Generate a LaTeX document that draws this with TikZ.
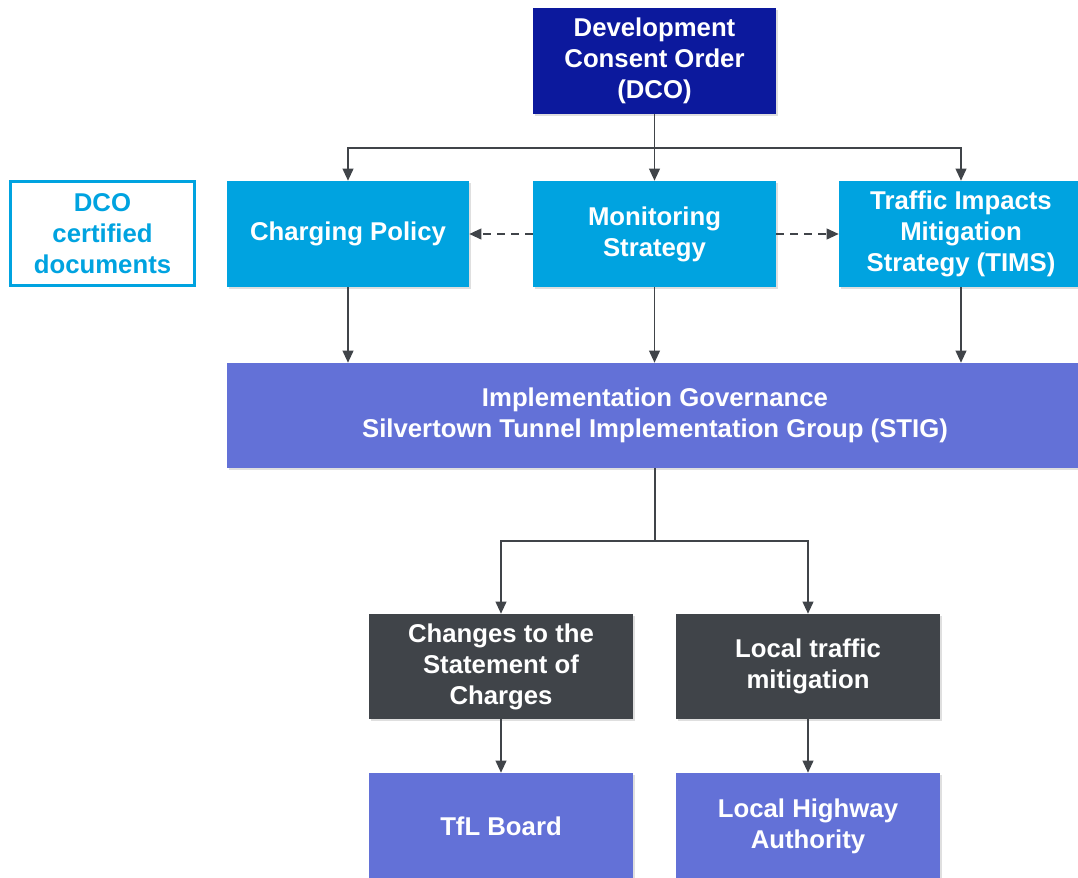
\documentclass[tikz,border=0pt]{standalone}
\usepackage{fontspec}
\setmainfont{Liberation Sans}
\usepackage{tikz}
\usetikzlibrary{arrows.meta, shadows}

\definecolor{dcoblue}{RGB}{12,25,157}
\definecolor{docblue}{RGB}{0,163,224}
\definecolor{govpurple}{RGB}{99,113,215}
\definecolor{actgray}{RGB}{64,68,73}
\definecolor{linegray}{RGB}{64,68,73}

\begin{document}
\begin{tikzpicture}[x=0.75pt, y=-0.75pt,
    box/.style={rectangle, inner sep=2pt, align=center, text=white,
        font=\bfseries\fontsize{19.3}{23.3}\selectfont,
        drop shadow={opacity=0.25, shadow xshift=1.5pt, shadow yshift=-1.5pt}},
    link/.style={draw=linegray, line width=1.3pt, -{Triangle[length=9pt, width=8pt]}},
    plain/.style={draw=linegray, line width=1.3pt}
    ]
    \useasboundingbox (0,0) rectangle (1078,878);

    % top order
    \node[box, fill=dcoblue, minimum width=243*0.75pt, minimum height=106*0.75pt] (dco) at (654.5,61) {Development\\Consent Order\\(DCO)};

    % certified documents
    \node[rectangle, draw=docblue, line width=2.2pt, fill=white, text=docblue, align=center,
        font=\bfseries\fontsize{19.3}{23.3}\selectfont,
        minimum width=184*0.75pt, minimum height=104*0.75pt] (cert) at (102.5,233.5) {DCO\\certified\\documents};
    \node[box, fill=docblue, minimum width=242*0.75pt, minimum height=106*0.75pt] (charge) at (348,234) {Charging Policy};
    \node[box, fill=docblue, minimum width=243*0.75pt, minimum height=106*0.75pt] (monit) at (654.5,234) {Monitoring\\Strategy};
    \node[box, fill=docblue, minimum width=244*0.75pt, minimum height=106*0.75pt] (tims) at (961,234) {Traffic Impacts\\Mitigation\\Strategy (TIMS)};

    % governance
    \node[box, fill=govpurple, minimum width=856*0.75pt, minimum height=105*0.75pt] (impl) at (655,415.5) {Implementation Governance\\Silvertown Tunnel Implementation Group (STIG)};

    % actions and approvers
    \node[box, fill=actgray, minimum width=264*0.75pt, minimum height=105*0.75pt] (changes) at (501,666.5) {Changes to the\\Statement of\\Charges};
    \node[box, fill=actgray, minimum width=264*0.75pt, minimum height=105*0.75pt] (local) at (808,666.5) {Local traffic\\mitigation};
    \node[box, fill=govpurple, minimum width=264*0.75pt, minimum height=106*0.75pt] (tfl) at (501,826) {TfL Board};
    \node[box, fill=govpurple, minimum width=264*0.75pt, minimum height=106*0.75pt] (lha) at (808,826) {Local Highway\\Authority};

    % connectors
    \coordinate (split) at (654.5,148);
    \draw[plain] (dco.south) -- (split);
    \draw[link] (split) -| (charge.north);
    \draw[link] (split) -- (monit.north);
    \draw[link] (split) -| (tims.north);
    \draw[link, dash pattern=on 6pt off 4.5pt] (monit.west) -- (charge.east);
    \draw[link, dash pattern=on 6pt off 4.5pt] (monit.east) -- (tims.west);

    \draw[link] (charge.south) -- (charge.south |- impl.north);
    \draw[link] (monit.south) -- (monit.south |- impl.north);
    \draw[link] (tims.south) -- (tims.south |- impl.north);

    \coordinate (fork) at (655,541);
    \draw[plain] (impl.south) -- (fork);
    \draw[link] (fork) -| (changes.north);
    \draw[link] (fork) -| (local.north);
    \draw[link] (changes.south) -- (tfl.north);
    \draw[link] (local.south) -- (lha.north);
\end{tikzpicture}
\end{document}
